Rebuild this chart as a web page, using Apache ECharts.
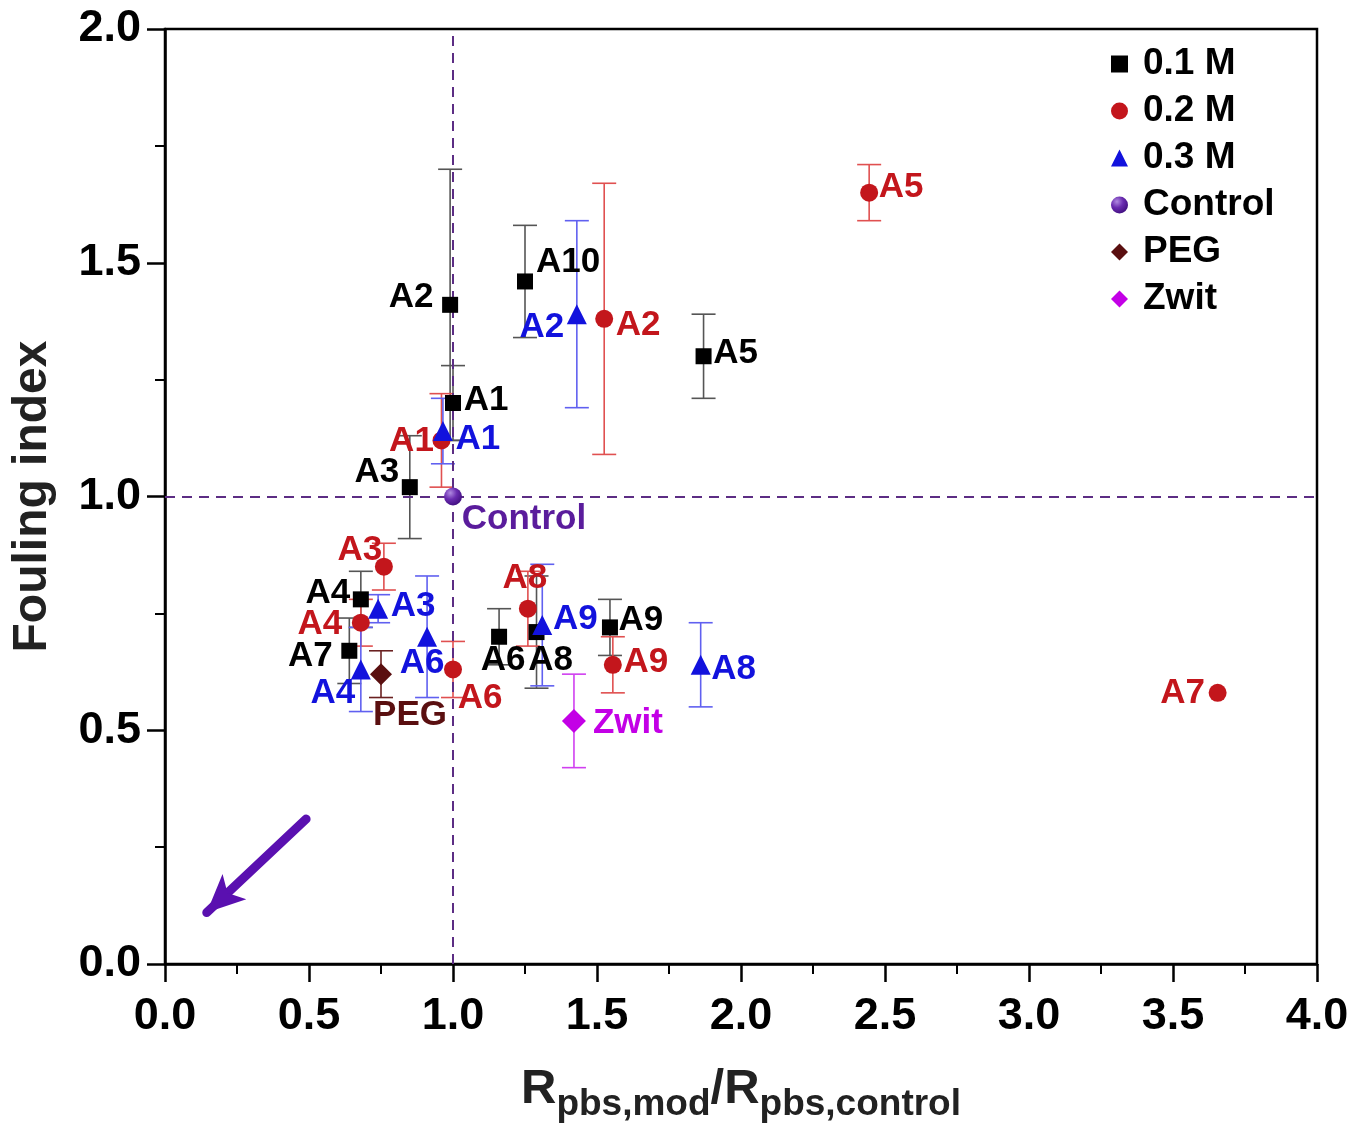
<!DOCTYPE html>
<html>
<head>
<meta charset="utf-8">
<script src="https://cdn.jsdelivr.net/npm/echarts@6/dist/echarts.min.js"></script>
<style>html,body{margin:0;padding:0;background:#fff}#c{width:1355px;height:1129px}</style>
</head>
<body>
<div id="c"></div>
<script>
// ---------- DATA ----------
var xTicks = [0.0, 0.5, 1.0, 1.5, 2.0, 2.5, 3.0, 3.5, 4.0];
var yTicks = [0.0, 0.5, 1.0, 1.5, 2.0];

var m01Names = ['A1','A2','A3','A4','A5','A6','A7','A8','A9','A10'];
var m01X     = [1.00, 0.99, 0.85, 0.68, 1.87, 1.16, 0.64, 1.29, 1.545, 1.25];
var m01Y     = [1.20, 1.41, 1.02, 0.78, 1.30, 0.70, 0.67, 0.71, 0.72, 1.46];
var m01Err   = [0.08, 0.29, 0.11, 0.06, 0.09, 0.06, 0.07, 0.12, 0.06, 0.12];

var m02Names = ['A1','A2','A3','A4','A5','A6','A7','A8','A9'];
var m02X     = [0.96, 1.525, 0.76, 0.68, 2.445, 1.00, 3.655, 1.26, 1.555];
var m02Y     = [1.12, 1.38, 0.85, 0.73, 1.65, 0.63, 0.58, 0.76, 0.64];
var m02Err   = [0.10, 0.29, 0.05, 0.05, 0.06, 0.06, 0.00, 0.08, 0.06];

var m03Names = ['A1','A2','A3','A4','A6','A8','A9'];
var m03X     = [0.965, 1.43, 0.74, 0.68, 0.91, 1.86, 1.31];
var m03Y     = [1.14, 1.39, 0.76, 0.63, 0.70, 0.64, 0.725];
var m03Err   = [0.07, 0.20, 0.03, 0.09, 0.13, 0.09, 0.13];

var ctrlX = [1.00], ctrlY = [1.00], ctrlErr = [0];
var pegX  = [0.75], pegY  = [0.62], pegErr  = [0.05];
var zwitX = [1.42], zwitY = [0.52], zwitErr = [0.10];

var refX = 1.0, refY = 1.0;
var arrowStart = [0.49, 0.31];
var arrowEnd   = [0.145, 0.11];

// ---------- LAYOUT (label offsets in px, not data) ----------
var m01Off = [[33,-3],[-39,-7],[-33,-15],[-33,-6],[32,-3],[4,24],[-39,6],[14,28],[31,-7],[43,-19]];
var m02Off = [[-30,1],[34,6],[-24,-16],[-41,2],[32,-5],[27,29],[-35,0],[-3,-30],[33,-2]];
var m03Off = [[35,8],[-35,13],[35,-2],[-28,24],[-5,27],[33,5],[33,-6]];
var ctrlOff = [[71,23]], pegOff = [[29,41]], zwitOff = [[54,2]];

var FONT = '"Liberation Sans", Arial, Helvetica, sans-serif';
var C01 = '#000000', C02 = '#c3161c', C03 = '#1212dd', CCTRL = '#5a1c9c', CPEG = '#5a0f10', CZW = '#c300e6';
var E01 = '#555555', E02 = '#e05050', E03 = '#6060f0';

function pts(names, xs, ys, offs){
  return xs.map(function(x,i){
    return {name: names ? names[i] : '', value:[x, ys[i]], label:{offset: offs[i]}};
  });
}
function errData(xs, ys, es){ return xs.map(function(x,i){ return [x, ys[i], es[i]]; }); }
function errSeries(name, xs, ys, es, color){
  return {
    type:'custom', name:name, z:1, silent:true,
    data: errData(xs, ys, es),
    renderItem: function(params, api){
      var x = api.value(0), y = api.value(1), e = api.value(2);
      if (!e) return null;
      var t = api.coord([x, y+e]), b = api.coord([x, y-e]), w = 12;
      var st = {stroke: color, lineWidth: 1.6};
      return {type:'group', children:[
        {type:'line', shape:{x1:t[0],y1:t[1],x2:b[0],y2:b[1]}, style:st},
        {type:'line', shape:{x1:t[0]-w,y1:t[1],x2:t[0]+w,y2:t[1]}, style:st},
        {type:'line', shape:{x1:b[0]-w,y1:b[1],x2:b[0]+w,y2:b[1]}, style:st}
      ]};
    }
  };
}
function scat(name, data, symbol, size, color, labelColor, labelText){
  return {
    type:'scatter', name:name, z:5, symbol:symbol, symbolSize:size,
    itemStyle:{color:color, opacity:1},
    label:{show:true, position:'inside', color:labelColor, fontSize:35, fontWeight:'bold', fontFamily:FONT,
           formatter: labelText ? function(){return labelText;} : '{b}'},
    emphasis:{disabled:true},
    data:data
  };
}

var ctrlColor = new echarts.graphic.RadialGradient(0.35, 0.3, 0.8, [
  {offset:0, color:'#b08ae0'}, {offset:0.45, color:'#6a2cb0'}, {offset:1, color:'#3a0a78'}
]);

var chart = echarts.init(document.getElementById('c'), null, {renderer:'canvas'});
var option = {
  backgroundColor:'#fff',
  animation:false,
  grid:{left:165, right:38, top:29, bottom:165, show:true, borderColor:'#000', borderWidth:2.5,
        backgroundColor:'transparent', containLabel:false, outerBoundsMode:'none'},
  xAxis:{
    type:'value', min:xTicks[0], max:xTicks[xTicks.length-1], interval:0.5,
    name:'R{s|pbs,mod}/R{s|pbs,control}', nameLocation:'middle', nameGap:92,
    nameTextStyle:{fontSize:49, fontWeight:'bold', fontFamily:FONT, color:'#222',
      rich:{s:{fontSize:37, fontWeight:'bold', fontFamily:FONT, color:'#222', padding:[30,0,0,0]}}},
    axisLine:{onZero:false, lineStyle:{color:'#000', width:2.5}},
    axisTick:{show:true, inside:false, length:18, lineStyle:{color:'#000', width:2.5}},
    minorTick:{show:true, splitNumber:2, length:10, lineStyle:{color:'#000', width:2}},
    splitLine:{show:false},
    axisLabel:{margin:30, fontSize:45, fontWeight:'bold', fontFamily:FONT, color:'#000',
      formatter:function(v){return v.toFixed(1);}}
  },
  yAxis:{
    type:'value', min:yTicks[0], max:yTicks[yTicks.length-1], interval:0.5,
    name:'Fouling index', nameLocation:'middle', nameGap:108, nameRotate:90,
    nameTextStyle:{fontSize:48, fontWeight:'bold', fontFamily:FONT, color:'#222'},
    axisLine:{onZero:false, lineStyle:{color:'#000', width:2.5}},
    axisTick:{show:true, inside:false, length:18, lineStyle:{color:'#000', width:2.5}},
    minorTick:{show:true, splitNumber:2, length:10, lineStyle:{color:'#000', width:2}},
    splitLine:{show:false},
    axisLabel:{margin:24, fontSize:45, fontWeight:'bold', fontFamily:FONT, color:'#000',
      formatter:function(v){return v.toFixed(1);}}
  },
  legend:{
    data:['0.1 M','0.2 M','0.3 M','Control','PEG','Zwit'],
    orient:'vertical', left:1106, top:39, itemWidth:17, itemHeight:17, itemGap:7,
    textStyle:{fontSize:37, fontWeight:'bold', fontFamily:FONT, color:'#000', padding:[0,0,0,10], lineHeight:40},
    selectedMode:false
  },
  series:[
    {
      type:'line', name:'ref', data:[], silent:true,
      markLine:{silent:true, symbol:['none','none'], label:{show:false},
        lineStyle:{type:[10,7], color:'#5c2d84', width:2},
        data:[{xAxis:refX},{yAxis:refY}]}
    },
    {
      type:'line', name:'arrow', data:[], silent:true,
      markLine:{silent:true, symbol:['none','arrow'], symbolSize:[26,38], label:{show:false},
        lineStyle:{type:'solid', color:'#5a10b0', width:9, cap:'round'},
        data:[[{coord:arrowStart},{coord:arrowEnd}]]}
    },
    errSeries('e01', m01X, m01Y, m01Err, E01),
    errSeries('e02', m02X, m02Y, m02Err, E02),
    errSeries('e03', m03X, m03Y, m03Err, E03),
    errSeries('epeg', pegX, pegY, pegErr, '#6a2020'),
    errSeries('ezw', zwitX, zwitY, zwitErr, '#d040f0'),
    scat('0.1 M', pts(m01Names, m01X, m01Y, m01Off), 'rect', 16, C01, C01),
    scat('0.2 M', pts(m02Names, m02X, m02Y, m02Off), 'circle', 18, C02, C02),
    scat('0.3 M', pts(m03Names, m03X, m03Y, m03Off), 'triangle', 20, C03, C03),
    scat('Control', pts(null, ctrlX, ctrlY, ctrlOff), 'circle', 18, ctrlColor, CCTRL, 'Control'),
    scat('PEG', pts(null, pegX, pegY, pegOff), 'diamond', 22, CPEG, CPEG, 'PEG'),
    scat('Zwit', pts(null, zwitX, zwitY, zwitOff), 'diamond', 24, CZW, CZW, 'Zwit')
  ]
};
chart.setOption(option);
</script>
</body>
</html>
